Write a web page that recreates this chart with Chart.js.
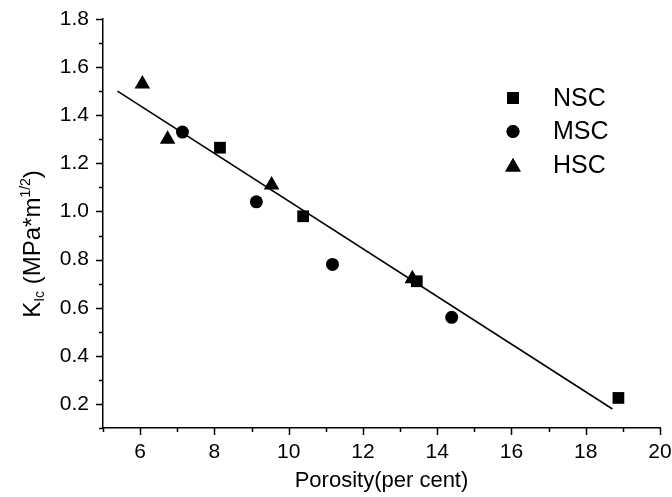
<!DOCTYPE html>
<html lang="en">
<head>
    <meta charset="UTF-8">
    <title>KIc vs Porosity</title>
    <script src="https://cdn.jsdelivr.net/npm/chart.js"></script>
    <style>
        body { margin: 0; background: #fff; }
    </style>
</head>
<body>
    <canvas id="kicChart" width="672" height="497"></canvas>
    <script>
        // tick values
        const xMajor = [6, 8, 10, 12, 14, 16, 18, 20];
        const xMinor = [5, 7, 9, 11, 13, 15, 17, 19];
        const yMajor = [0.2, 0.4, 0.6, 0.8, 1.0, 1.2, 1.4, 1.6, 1.8];
        const yMinor = [0.1, 0.3, 0.5, 0.7, 0.9, 1.1, 1.3, 1.5, 1.7];

        // measured points
        const nscX = [8.15, 10.39, 13.45, 18.88];
        const nscY = [1.265, 0.98, 0.71, 0.225];
        const mscX = [7.14, 9.13, 11.18, 14.39];
        const mscY = [1.33, 1.04, 0.78, 0.56];
        const hscX = [6.06, 6.74, 9.54, 13.33];
        const hscY = [1.53, 1.30, 1.11, 0.72];

        // fitted line end points
        const fitX = [5.39, 18.72];
        const fitY = [1.50, 0.179];

        const seriesNames = ['NSC', 'MSC', 'HSC'];

        function toPoints(xs, ys) {
            return xs.map((x, i) => ({ x: x, y: ys[i] }));
        }

        const font = 'Arial, "Liberation Sans", sans-serif';

        // minor ticks, major ticks, y title with sub/superscript, legend
        const extrasPlugin = {
            id: 'extras',
            afterDraw(chart) {
                const ctx = chart.ctx;
                const xs = chart.scales.x, ys = chart.scales.y;
                ctx.save();
                ctx.strokeStyle = '#000';
                ctx.lineWidth = 1.5;
                const yLine = xs.top;
                xMajor.concat(xMinor).forEach(v => {
                    const len = xMajor.includes(v) ? 7 : 4;
                    const px = Math.round(xs.getPixelForValue(v)) + 0.5;
                    ctx.beginPath(); ctx.moveTo(px, yLine); ctx.lineTo(px, yLine + len); ctx.stroke();
                });
                const xLine = ys.right;
                yMajor.concat(yMinor).forEach(v => {
                    const len = yMajor.includes(v) ? 7 : 4;
                    const py = Math.round(ys.getPixelForValue(v)) + 0.5;
                    ctx.beginPath(); ctx.moveTo(xLine, py); ctx.lineTo(xLine - len, py); ctx.stroke();
                });

                // y axis title: K_Ic (MPa*m^1/2)
                const parts = [
                    { t: 'K', size: 24, dy: 0 },
                    { t: 'Ic', size: 14, dy: 4 },
                    { t: ' (MPa*m', size: 24, dy: 0 },
                    { t: '1/2', size: 14, dy: -10 },
                    { t: ')', size: 24, dy: 0 }
                ];
                let total = 0;
                parts.forEach(p => {
                    ctx.font = p.size + 'px ' + font;
                    p.w = ctx.measureText(p.t).width;
                    total += p.w;
                });
                ctx.translate(40, 244);
                ctx.rotate(-Math.PI / 2);
                ctx.fillStyle = '#000';
                ctx.textBaseline = 'alphabetic';
                ctx.textAlign = 'left';
                let cx = -total / 2;
                parts.forEach(p => {
                    ctx.font = p.size + 'px ' + font;
                    ctx.fillText(p.t, cx, p.dy);
                    cx += p.w;
                });
                ctx.setTransform(1, 0, 0, 1, 0, 0);

                // legend
                const rows = [98, 131.5, 165];
                chart.data.datasets.slice(0, 3).forEach((ds, i) => {
                    Chart.helpers.drawPoint(ctx, {
                        pointStyle: ds.pointStyle,
                        radius: ds.pointRadius,
                        rotation: 0,
                        borderWidth: 0
                    }, 513, rows[i] + (ds.pointStyle === 'triangle' ? 2 : 0));
                    ctx.fillStyle = '#000';
                    ctx.fill();
                    ctx.font = '25px ' + font;
                    ctx.textBaseline = 'middle';
                    ctx.textAlign = 'left';
                    ctx.fillText(ds.label, 553, rows[i] + 1);
                });
                ctx.restore();
            }
        };

        const pointDefaults = {
            backgroundColor: '#000',
            borderColor: '#000',
            borderWidth: 0
        };

        new Chart(document.getElementById('kicChart'), {
            type: 'scatter',
            data: {
                datasets: [
                    Object.assign({ label: seriesNames[0], data: toPoints(nscX, nscY), pointStyle: 'rect', pointRadius: 8.3 }, pointDefaults),
                    Object.assign({ label: seriesNames[1], data: toPoints(mscX, mscY), pointStyle: 'circle', pointRadius: 6.5 }, pointDefaults),
                    Object.assign({ label: seriesNames[2], data: toPoints(hscX, hscY), pointStyle: 'triangle', pointRadius: 9 }, pointDefaults),
                    {
                        label: 'fit',
                        type: 'line',
                        data: toPoints(fitX, fitY),
                        borderColor: '#000',
                        borderWidth: 1.6,
                        pointRadius: 0,
                        fill: false,
                        order: 5
                    }
                ]
            },
            options: {
                responsive: false,
                animation: false,
                layout: { padding: { top: 19, right: 12, left: 0, bottom: 0 } },
                plugins: {
                    legend: { display: false },
                    tooltip: { enabled: false }
                },
                scales: {
                    x: {
                        type: 'linear',
                        min: 5,
                        max: 20,
                        afterBuildTicks: s => { s.ticks = xMajor.map(v => ({ value: v })); },
                        afterFit: s => { s.height = 69; s.paddingLeft = 0; s.paddingRight = 0; },
                        grid: { display: false, drawTicks: false },
                        border: { display: true, color: '#000', width: 1.5 },
                        ticks: {
                            color: '#000',
                            font: { family: font, size: 21 },
                            padding: 12,
                            maxRotation: 0,
                            callback: v => String(v)
                        },
                        title: {
                            display: true,
                            text: 'Porosity(per cent)',
                            color: '#000',
                            font: { family: font, size: 22 },
                            padding: { top: 3, bottom: 3 }
                        }
                    },
                    y: {
                        min: 0.1,
                        max: 1.8,
                        afterBuildTicks: s => { s.ticks = yMajor.map(v => ({ value: v })); },
                        afterFit: s => { s.width = 103; s.paddingTop = 0; s.paddingBottom = 0; },
                        grid: { display: false, drawTicks: false },
                        border: { display: true, color: '#000', width: 1.5 },
                        ticks: {
                            color: '#000',
                            font: { family: font, size: 21 },
                            padding: 14,
                            callback: v => v.toFixed(1)
                        }
                    }
                }
            },
            plugins: [extrasPlugin]
        });
    </script>
</body>
</html>
